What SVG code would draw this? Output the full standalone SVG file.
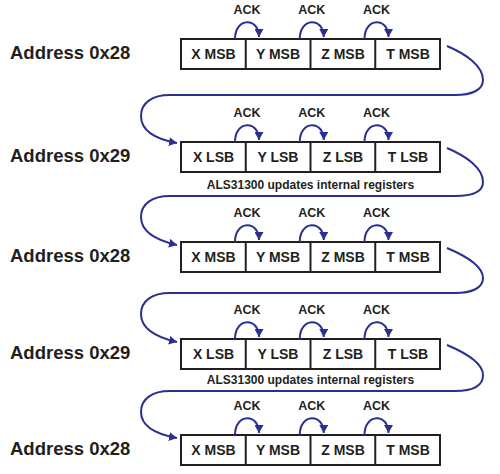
<svg xmlns="http://www.w3.org/2000/svg" width="500" height="474" viewBox="0 0 500 474">
<style>
.addr{font-family:"Liberation Sans",Arial,sans-serif;font-weight:bold;font-size:18.5px;fill:#231f20}
.cell{font-family:"Liberation Sans",Arial,sans-serif;font-weight:bold;font-size:14px;fill:#231f20;text-anchor:middle}
.ack{font-family:"Liberation Sans",Arial,sans-serif;font-weight:bold;font-size:12.5px;fill:#231f20;text-anchor:middle}
.note{font-family:"Liberation Sans",Arial,sans-serif;font-weight:bold;font-size:12px;fill:#231f20;text-anchor:middle}
.box{fill:#fff;stroke:#231f20;stroke-width:2}
.div{stroke:#231f20;stroke-width:2}
.conn{fill:none;stroke:#2b2f8f;stroke-width:2}
</style>
<defs>
<marker id="ah" markerUnits="userSpaceOnUse" markerWidth="9" markerHeight="9" refX="8" refY="4.5" orient="auto">
<path d="M0,0 L8,4.5 L0,9 z" fill="#2b2f8f"/>
</marker>
<g id="acks">
<path class="conn" d="M235,39 C235,17 259,17 259,37" marker-end="url(#ah)"/>
<path class="conn" d="M299.75,39 C299.75,17 323.75,17 323.75,37" marker-end="url(#ah)"/>
<path class="conn" d="M364.5,39 C364.5,17 388.5,17 388.5,37" marker-end="url(#ah)"/>
<text class="ack" x="247" y="14">ACK</text>
<text class="ack" x="311.75" y="14">ACK</text>
<text class="ack" x="376.5" y="14">ACK</text>
</g>
<g id="frame">
<rect class="box" x="181" y="39" width="259" height="30"/>
<line class="div" x1="245.75" y1="39" x2="245.75" y2="69"/>
<line class="div" x1="310.5" y1="39" x2="310.5" y2="69"/>
<line class="div" x1="375.25" y1="39" x2="375.25" y2="69"/>
</g>
</defs>

<g id="row1">
<text class="addr" x="10" y="59">Address 0x28</text>
<use href="#frame"/>
<text class="cell" x="213.5" y="59">X MSB</text>
<text class="cell" x="278" y="59">Y MSB</text>
<text class="cell" x="343" y="59">Z MSB</text>
<text class="cell" x="408" y="59">T MSB</text>
<use href="#acks"/>
</g>

<g id="row2" transform="translate(0,103)">
<text class="addr" x="10" y="59">Address 0x29</text>
<use href="#frame"/>
<text class="cell" x="213.5" y="59">X LSB</text>
<text class="cell" x="278" y="59">Y LSB</text>
<text class="cell" x="343" y="59">Z LSB</text>
<text class="cell" x="408" y="59">T LSB</text>
<use href="#acks"/>
<text class="note" x="310.5" y="86">ALS31300 updates internal registers</text>
</g>

<g id="row3" transform="translate(0,203)">
<text class="addr" x="10" y="59">Address 0x28</text>
<use href="#frame"/>
<text class="cell" x="213.5" y="59">X MSB</text>
<text class="cell" x="278" y="59">Y MSB</text>
<text class="cell" x="343" y="59">Z MSB</text>
<text class="cell" x="408" y="59">T MSB</text>
<use href="#acks"/>
</g>

<g id="row4" transform="translate(0,300)">
<text class="addr" x="10" y="59">Address 0x29</text>
<use href="#frame"/>
<text class="cell" x="213.5" y="59">X LSB</text>
<text class="cell" x="278" y="59">Y LSB</text>
<text class="cell" x="343" y="59">Z LSB</text>
<text class="cell" x="408" y="59">T LSB</text>
<use href="#acks"/>
<text class="note" x="310.5" y="84">ALS31300 updates internal registers</text>
</g>

<g id="row5" transform="translate(0,396)">
<text class="addr" x="10" y="59">Address 0x28</text>
<use href="#frame"/>
<text class="cell" x="213.5" y="59">X MSB</text>
<text class="cell" x="278" y="59">Y MSB</text>
<text class="cell" x="343" y="59">Z MSB</text>
<text class="cell" x="408" y="59">T MSB</text>
<use href="#acks"/>
</g>

<g id="connectors">
<path class="conn" d="M447,46 C466,54 483,66 483,80 C483,90 472,95 455,95 L170,95 C152,95 141,103 141,116 C141,130 155,139 177,143" marker-end="url(#ah)"/>
<path class="conn" d="M447,148 C466,156 483,168 483,182 C483,192 472,196 455,196 L170,196 C152,196 141,204 141,217 C141,231 155,240 177,245" marker-end="url(#ah)"/>
<path class="conn" d="M447,248 C466,256 483,266 483,278 C483,288 472,293 455,293 L170,293 C152,293 141,301 141,314 C141,328 155,337 177,342" marker-end="url(#ah)"/>
<path class="conn" d="M447,345 C466,353 483,363 483,375 C483,386 472,391 455,391 L170,391 C152,391 141,399 141,412 C141,426 155,434 177,438" marker-end="url(#ah)"/>
</g>
</svg>
